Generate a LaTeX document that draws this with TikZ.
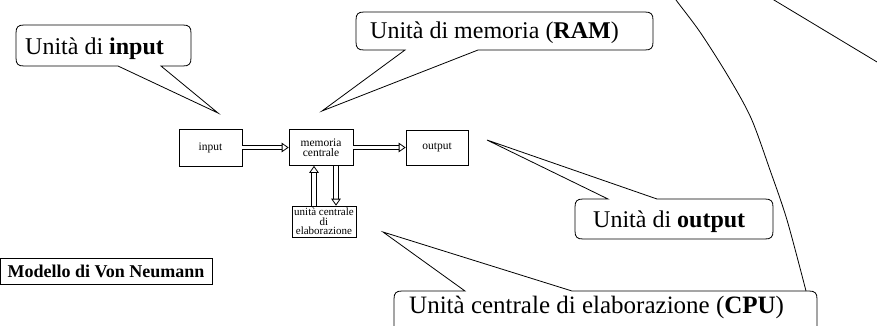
\documentclass[tikz,border=0pt]{standalone}
\usepackage{fontspec}
\setmainfont{Liberation Serif}
\usetikzlibrary{arrows.meta,calc}
\begin{document}
\begin{tikzpicture}[x=1pt,y=-1pt,
  blk/.style={draw, line width=0.6pt, inner sep=0pt, align=center,
    font=\fontsize{11.5}{10.5}\selectfont},
  call/.style={draw, line width=0.8pt},
  lbl/.style={anchor=base west, inner sep=0pt, font=\fontsize{24}{28}\selectfont},
  dblline/.style={double, double distance=3.6pt, line width=0.9pt, shorten >=7pt},
  dbltip/.style={draw=white, line width=0.1pt,
    -{Triangle[open, length=7pt, width=9.5pt, color=black, line width=0.8pt]}}
]
\useasboundingbox (0,0) rectangle (877,325);
\clip (0,0) rectangle (877,325);

% blocks
\node[blk, minimum width=63pt, minimum height=37pt] (in)  at (210.5,147.5) {input};
\node[blk, minimum width=64pt, minimum height=36pt] (mem) at (321,147.5) {memoria\\centrale};
\node[blk, minimum width=62pt, minimum height=35pt] (out) at (437,147.5) {output};
\node[blk, minimum width=64pt, minimum height=31pt, font=\fontsize{11}{9.5}\selectfont] (cpu) at (324,221.5) {unità centrale\\di\\elaborazione};

\coordinate (ux) at (314,0);
\coordinate (dx) at (336,0);

% double arrows
\draw[dblline] (in) -- (mem);
\draw[dbltip] (in) -- (mem);
\draw[dblline] (mem) -- (out);
\draw[dbltip] (mem) -- (out);
\draw[dblline] (cpu.north -| ux) -- (mem.south -| ux);
\draw[dbltip] (cpu.north -| ux) -- (mem.south -| ux);
\draw[dblline] (mem.south -| dx) -- (cpu.north -| dx);
\draw[dbltip] (mem.south -| dx) -- (cpu.north -| dx);

% callout: input
\draw[call] (24,25) -- (183,25) .. controls (189,25) and (191,27) .. (191,33)
  -- (191,58) .. controls (191,64) and (189,66) .. (183,66)
  -- (161,66) -- (218,113) -- (118,66) -- (24,66)
  .. controls (18,66) and (16,64) .. (16,58) -- (16,33)
  .. controls (16,27) and (18,25) .. (24,25) -- cycle;
\node[lbl] (tin) at (25,54) {Unità di \textbf{input}};

% callout: RAM
\draw[call] (364,12) -- (645,12) .. controls (651,12) and (653,14) .. (653,20)
  -- (653,42) .. controls (653,48) and (651,50) .. (645,50)
  -- (478,50) -- (322,111) -- (405,50) -- (364,50)
  .. controls (358,50) and (356,48) .. (356,42) -- (356,20)
  .. controls (356,14) and (358,12) .. (364,12) -- cycle;
\node[lbl] (tram) at (370,38) {Unità di memoria (\textbf{RAM})};

% callout: output
\draw[call] (583,199) -- (608,199) -- (487,140) -- (657,199) -- (765,199)
  .. controls (771,199) and (773,201) .. (773,207) -- (773,231)
  .. controls (773,237) and (771,239) .. (765,239) -- (583,239)
  .. controls (577,239) and (575,237) .. (575,231) -- (575,207)
  .. controls (575,201) and (577,199) .. (583,199) -- cycle;
\node[lbl] (tout) at (593,227) {Unità di \textbf{output}};

% callout: CPU
\draw[call] (402,291) -- (465,291) -- (383,232) -- (572,291) -- (809,291)
  .. controls (815,291) and (817,293) .. (817,299) -- (817,345)
  -- (394,345) -- (394,299)
  .. controls (394,293) and (396,291) .. (402,291) -- cycle;
\node[lbl, font=\fontsize{25}{28}\selectfont] (tcpu) at (409,313) {Unità centrale di elaborazione (\textbf{CPU})};

% long curve and line at top right
\draw[call] plot[smooth] coordinates {(668,-12) (676,0) (700,32) (728,76) (751,118) (770,170) (787,220) (806,291)};
\draw[call] (764,-6) -- (887,68);

% title box
\node[draw, line width=0.8pt, minimum width=212pt, minimum height=26pt, inner sep=0pt,
  font=\fontsize{18}{20}\selectfont\bfseries] (title) at (106,271) {Modello di Von Neumann};
\end{tikzpicture}
\end{document}
